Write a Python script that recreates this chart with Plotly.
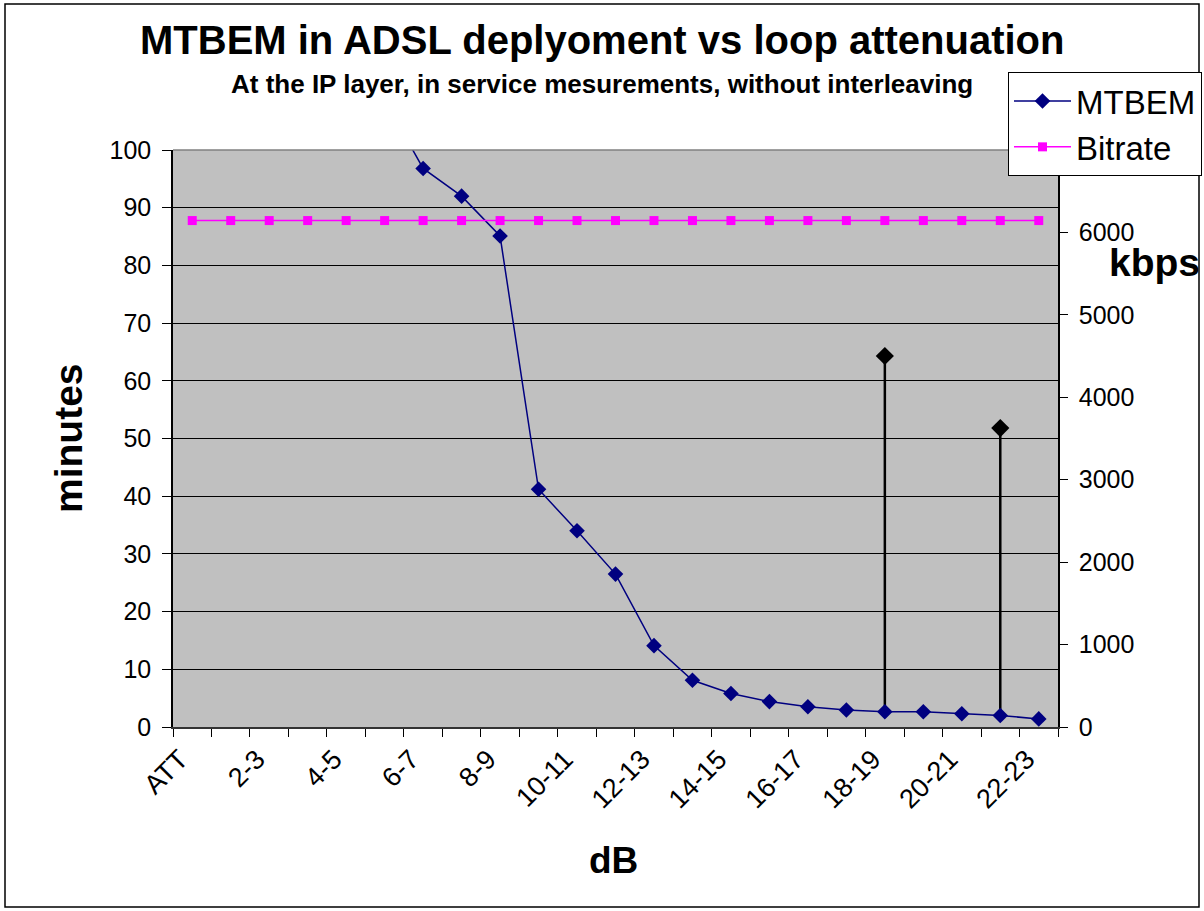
import plotly.graph_objects as go

categories = ["ATT", "1-2", "2-3", "3-4", "4-5", "5-6", "6-7", "7-8", "8-9", "9-10",
              "10-11", "11-12", "12-13", "13-14", "14-15", "15-16", "16-17", "17-18",
              "18-19", "19-20", "20-21", "21-22", "22-23"]
mtbem = [None, None, None, None, None, 108.7, 96.8, 92.0, 85.1, 41.2,
         34.0, 26.5, 14.1, 8.1, 5.8, 4.4, 3.5, 2.95, 2.65, 2.65,
         2.3, 2.0, 1.4]
bitrate = [6144] * 23
peak_cats = ["18-19", "21-22"]
peak_high = [64.3, 51.8]
peak_low = [1.7, 1.8]

tick_text = [c if i % 2 == 0 else "" for i, c in enumerate(categories)]

W, H = 1204, 911
L, R, T, B = 173, 1058, 150, 727
pw, ph = R - L, B - T


def px(x):
    return (x - L) / pw


def py(y):
    return (B - y) / ph


fig = go.Figure()

fig.add_trace(go.Scatter(
    x=categories, y=bitrate, name="Bitrate", yaxis="y2", mode="lines+markers",
    line=dict(color="#FF00FF", width=1.5),
    marker=dict(symbol="square", size=9, color="#FF00FF"),
))

fig.add_trace(go.Scatter(
    x=peak_cats, y=peak_high, mode="markers", showlegend=False,
    marker=dict(symbol="diamond", size=14, color="black"),
    error_y=dict(type="data", symmetric=False, array=[0, 0],
                 arrayminus=[h - l for h, l in zip(peak_high, peak_low)],
                 width=0, thickness=2.5, color="black"),
))

fig.add_trace(go.Scatter(
    x=categories, y=mtbem, name="MTBEM", mode="lines+markers",
    line=dict(color="#000080", width=1.5),
    marker=dict(symbol="diamond", size=12, color="#000080"),
    connectgaps=False,
))

font = "Arial, Liberation Sans, sans-serif"

fig.update_layout(
    width=W, height=H,
    margin=dict(l=L, r=W - R, t=T, b=H - B, pad=0, autoexpand=False),
    paper_bgcolor="white", plot_bgcolor="#C0C0C0",
    font=dict(family=font, size=25, color="black"),
    xaxis=dict(
        type="category", categoryorder="array", categoryarray=categories,
        range=[-0.5, len(categories) - 0.5],
        tickmode="array", tickvals=categories, ticktext=tick_text,
        tickangle=-45, tickson="boundaries", ticks="outside", ticklen=8,
        tickcolor="black", showgrid=False, showline=True, linecolor="#333333",
        linewidth=1.5, tickfont=dict(size=27), zeroline=False,
        ticklabelshift=-12, ticklabelstandoff=4,
    ),
    yaxis=dict(
        range=[0, 100], tickvals=list(range(0, 101, 10)), ticks="outside",
        ticklen=9, tickcolor="black", showgrid=True, gridcolor="black",
        gridwidth=1, showline=True, linecolor="black", linewidth=1.5,
        zeroline=False, tickfont=dict(size=25), ticklabelstandoff=6,
    ),
    yaxis2=dict(
        overlaying="y", side="right", range=[0, 7000],
        tickvals=list(range(0, 6001, 1000)), ticks="outside", ticklen=8,
        tickcolor="black", showgrid=False, showline=True, linecolor="black",
        linewidth=1.5, zeroline=False, tickfont=dict(size=25),
        ticklabelstandoff=6,
    ),
    legend=dict(
        x=px(1008), y=py(72), xanchor="left", yanchor="top",
        bgcolor="white", bordercolor="black", borderwidth=1,
        font=dict(size=33, family=font), itemwidth=57,
        traceorder="reversed",
    ),
    showlegend=True,
)

fig.add_annotation(text="<b>MTBEM in ADSL deplyoment vs loop attenuation</b>",
                   xref="paper", yref="paper", x=px(602), y=py(40),
                   xanchor="center", yanchor="middle", showarrow=False,
                   font=dict(size=40, family=font))
fig.add_annotation(text="<b>At the IP layer, in service mesurements, without interleaving</b>",
                   xref="paper", yref="paper", x=px(602), y=py(84),
                   xanchor="center", yanchor="middle", showarrow=False,
                   font=dict(size=26, family=font))
fig.add_annotation(text="<b>minutes</b>", textangle=-90,
                   xref="paper", yref="paper", x=px(68), y=py(438),
                   xanchor="center", yanchor="middle", showarrow=False,
                   font=dict(size=39, family=font))
fig.add_annotation(text="<b>dB</b>",
                   xref="paper", yref="paper", x=px(613), y=py(860),
                   xanchor="center", yanchor="middle", showarrow=False,
                   font=dict(size=37, family=font))
fig.add_annotation(text="<b>kbps</b>",
                   xref="paper", yref="paper", x=px(1154), y=py(262),
                   xanchor="center", yanchor="middle", showarrow=False,
                   font=dict(size=39, family=font))

# top border of plot area (grey) and outer chart border
fig.add_shape(type="line", xref="paper", yref="paper", x0=0, x1=1, y0=1, y1=1,
              line=dict(color="#808080", width=1.5), layer="above")
fig.add_shape(type="rect", xref="paper", yref="paper",
              x0=px(5), x1=px(1199), y0=py(4), y1=py(907),
              line=dict(color="black", width=1.5), layer="above")

fig.write_html("out.html")
